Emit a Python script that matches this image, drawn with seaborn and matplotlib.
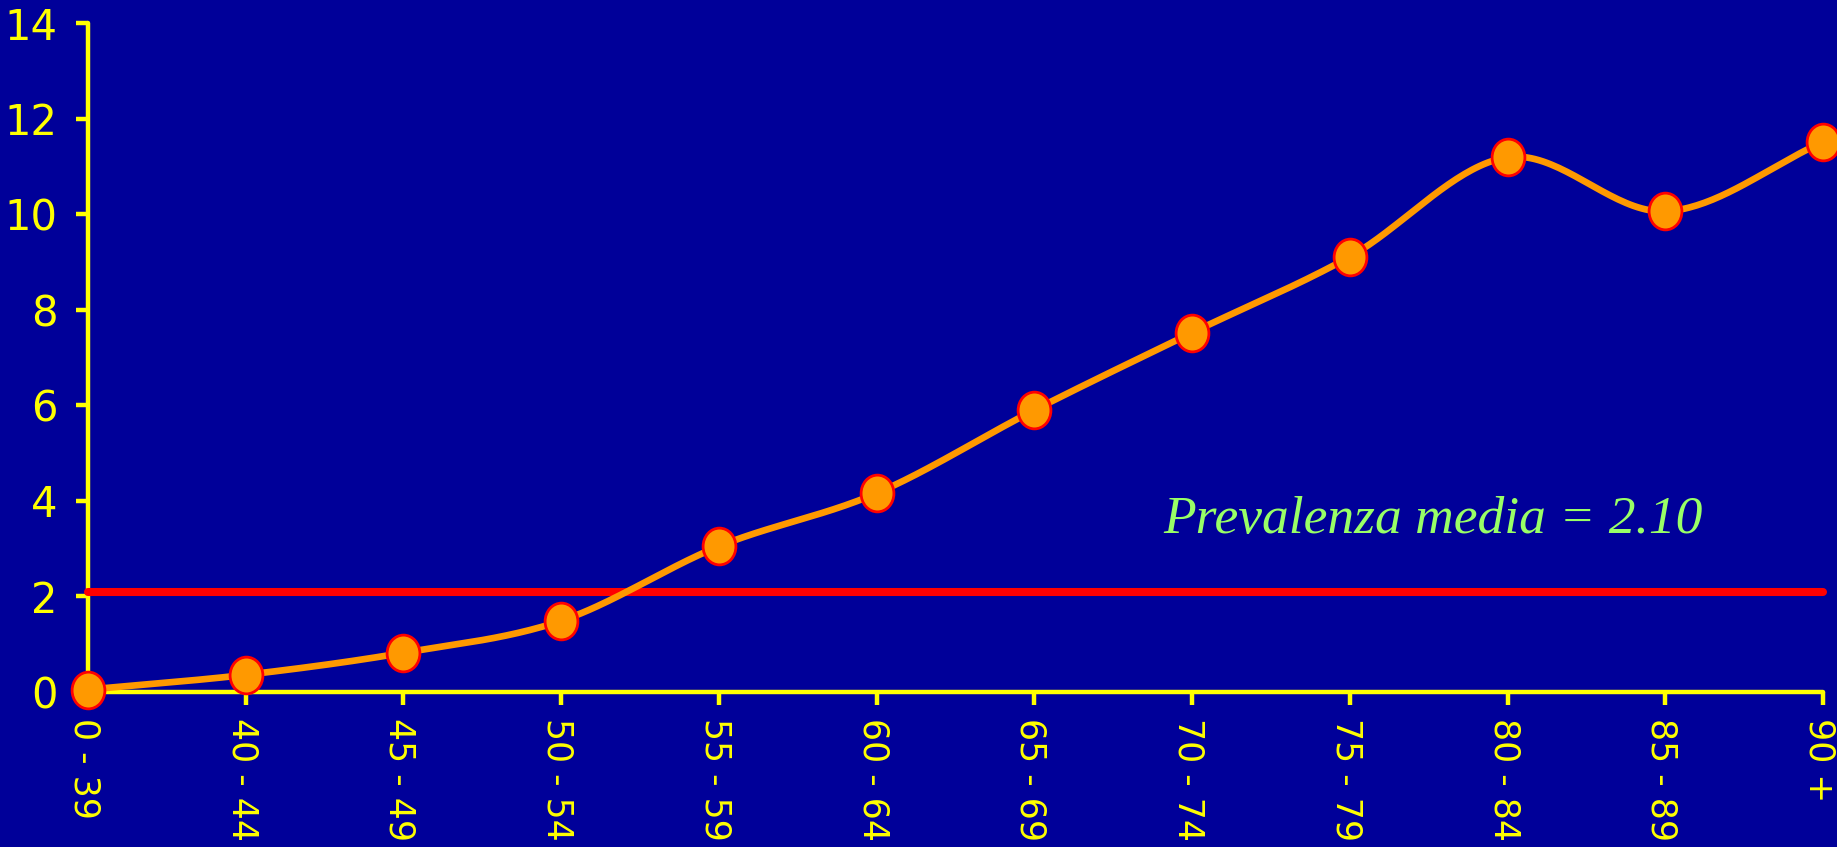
import numpy as np
import pandas as pd
import matplotlib
matplotlib.use("Agg")
import matplotlib.pyplot as plt
from matplotlib.path import Path
from matplotlib.transforms import Affine2D
import seaborn as sns

# Prevalence by age group
age_groups = ["0 - 39", "40 - 44", "45 - 49", "50 - 54", "55 - 59", "60 - 64",
              "65 - 69", "70 - 74", "75 - 79", "80 - 84", "85 - 89", "90 +"]
prevalence = [0.05, 0.36, 0.82, 1.49, 3.05, 4.16, 5.90, 7.52, 9.11, 11.19, 10.06, 11.51]
mean_prevalence = 2.10
y_ticks = [0, 2, 4, 6, 8, 10, 12, 14]

BG = "#000099"
YELLOW = "#FFFF00"
ORANGE = "#FF9900"
RED = "#FF0000"
GREEN = "#99FF66"

sns.set_theme(style="white")
plt.rcParams["font.family"] = ["DejaVu Sans"]


def smooth_curve(x, y, steps=40):
    """Catmull-Rom spline through the data points (smoothed line style)."""
    x = np.asarray(x, float)
    y = np.asarray(y, float)
    px = np.concatenate([[2 * x[0] - x[1]], x, [2 * x[-1] - x[-2]]])
    py = np.concatenate([[2 * y[0] - y[1]], y, [2 * y[-1] - y[-2]]])
    out_x, out_y = [], []
    t = np.linspace(0, 1, steps, endpoint=False)
    for i in range(1, len(px) - 2):
        for arr, out in ((px, out_x), (py, out_y)):
            p0, p1, p2, p3 = arr[i - 1], arr[i], arr[i + 1], arr[i + 2]
            seg = 0.5 * ((2 * p1) + (-p0 + p2) * t
                         + (2 * p0 - 5 * p1 + 4 * p2 - p3) * t ** 2
                         + (-p0 + 3 * p1 - 3 * p2 + p3) * t ** 3)
            out.extend(seg)
    out_x.append(x[-1])
    out_y.append(y[-1])
    return np.array(out_x), np.array(out_y)


# slightly tall ellipse marker
ellipse = Path.unit_circle().transformed(Affine2D().scale(1.0, 1.12))

xpos = np.arange(len(age_groups))
df = pd.DataFrame({"pos": xpos, "prevalence": prevalence})
cx, cy = smooth_curve(xpos, prevalence)
curve = pd.DataFrame({"pos": cx, "prevalence": cy})

fig = plt.figure(figsize=(18.37, 8.47), dpi=100, facecolor=BG)
ax = fig.add_axes([0.0479, 0.183, 0.9445, 0.7898])
ax.set_facecolor(BG)

# average prevalence reference line
ax.plot([xpos[0], xpos[-1]], [mean_prevalence, mean_prevalence], color=RED,
        lw=5.8, solid_capstyle="round", zorder=3, clip_on=False)

sns.lineplot(data=curve, x="pos", y="prevalence", sort=False, ax=ax,
             color=ORANGE, lw=4.8, zorder=4, clip_on=False)
sns.scatterplot(data=df, x="pos", y="prevalence", ax=ax, s=700,
                marker=ellipse, color=ORANGE, edgecolor=RED, linewidth=2.0,
                zorder=5, clip_on=False)

ax.text(6.82, 3.33, f"Prevalenza media = {mean_prevalence:.2f}",
        family="Liberation Serif", style="italic", fontsize=38.5,
        color=GREEN, va="baseline", ha="left")

ax.set_xticks(xpos)
ax.set_xticklabels(age_groups, rotation=270, rotation_mode="anchor",
                   fontsize=25, color=YELLOW, ha="left", va="center_baseline")
ax.set_yticks(y_ticks)
ax.set_yticklabels([str(v) for v in y_ticks], fontsize=30, color=YELLOW)
ax.set_xlabel("")
ax.set_ylabel("")

ax.set_xlim(xpos[0], xpos[-1])
ax.set_ylim(0, 14)

for side in ("top", "right"):
    ax.spines[side].set_visible(False)
for side in ("left", "bottom"):
    ax.spines[side].set_color(YELLOW)
    ax.spines[side].set_linewidth(3.2)
    ax.spines[side].set_capstyle("round")
ax.tick_params(axis="both", colors=YELLOW, length=9, width=3.2,
               bottom=True, left=True, direction="out")
ax.tick_params(axis="y", pad=13)
ax.tick_params(axis="x", pad=10)
ax.grid(False)

fig.savefig("out.png", dpi=100, facecolor=BG)
